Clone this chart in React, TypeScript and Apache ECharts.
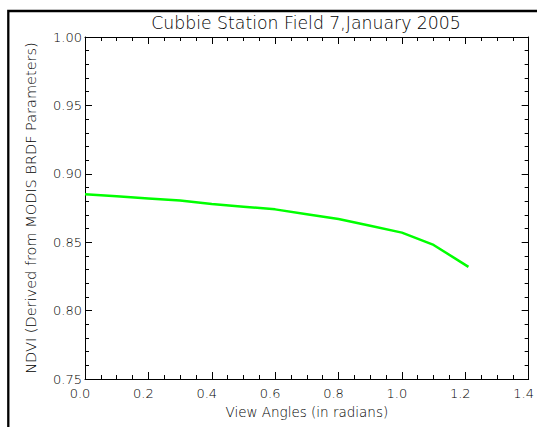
import React, { useEffect, useRef } from "react";
import * as echarts from "echarts";

const viewAngles = [0.0, 0.1, 0.2, 0.3, 0.4, 0.5, 0.6, 0.7, 0.8, 0.9, 1.0, 1.1, 1.21];
const ndviValues = [0.885, 0.8835, 0.882, 0.8805, 0.878, 0.876, 0.874, 0.8705, 0.867, 0.862, 0.857, 0.848, 0.832];
const titleText = "Cubbie Station Field 7,January 2005";
const xName = "View Angles (in radians)";
const yName = "NDVI (Derived from MODIS BRDF Parameters)";

const FONT = "DejaVu Sans";
const TXT = "#000";

export default function App() {
  const ref = useRef<HTMLDivElement>(null);
  useEffect(() => {
    if (!ref.current) return;
    const chart = echarts.init(ref.current, null, { renderer: "svg" });
    const tick = { show: true, inside: true, length: 7, lineStyle: { color: "#000", width: 1 } };
    const minor = { show: true, splitNumber: 4, length: 4, lineStyle: { color: "#000", width: 1 } };
    const minorY = { show: true, splitNumber: 5, length: 4, lineStyle: { color: "#000", width: 1 } };
    const line = { show: true, onZero: false, lineStyle: { color: "#000", width: 1 } };
    chart.setOption({
      animation: false,
      backgroundColor: "#fff",
      title: {
        text: titleText,
        left: 301,
        textAlign: "center",
        top: 9,
        textStyle: { fontFamily: FONT, fontSize: 17.3, fontWeight: 200, color: TXT },
      },
      graphic: [
        {
          type: "rect",
          shape: { x: 8.3, y: 11, width: 1000, height: 1000 },
          style: { fill: "none", stroke: "#000", lineWidth: 2.3 },
          silent: true,
        },
      ],
      grid: { left: 85, top: 37, right: 4, bottom: 48 },
      xAxis: [
        {
          type: "value",
          min: 0,
          max: 1.4,
          interval: 0.2,
          position: "bottom",
          name: xName,
          nameLocation: "middle",
          nameGap: 15,
          nameTextStyle: { fontFamily: FONT, fontSize: 13.5, fontWeight: 200, color: TXT },
          axisLine: line,
          axisTick: tick,
          minorTick: minor,
          splitLine: { show: false },
          axisLabel: {
            fontFamily: FONT,
            fontSize: 13,
            fontWeight: 200,
            color: TXT,
            margin: 8,
            padding: [0, 10, 0, 0],
            formatter: (v: number) => v.toFixed(1),
          },
        },
        {
          type: "value",
          min: 0,
          max: 1.4,
          interval: 0.2,
          position: "top",
          axisLine: line,
          axisTick: tick,
          minorTick: minor,
          splitLine: { show: false },
          axisLabel: { show: false },
        },
      ],
      yAxis: [
        {
          type: "value",
          min: 0.75,
          max: 1.0,
          interval: 0.05,
          position: "left",
          name: yName,
          nameLocation: "middle",
          nameGap: 47,
          nameTextStyle: { fontFamily: FONT, fontSize: 14.5, fontWeight: 200, color: TXT },
          axisLine: line,
          axisTick: tick,
          minorTick: minorY,
          splitLine: { show: false },
          axisLabel: {
            fontFamily: FONT,
            fontSize: 13,
            fontWeight: 200,
            color: TXT,
            margin: 3,
            formatter: (v: number) => v.toFixed(2),
          },
        },
        {
          type: "value",
          min: 0.75,
          max: 1.0,
          interval: 0.05,
          position: "right",
          axisLine: line,
          axisTick: tick,
          minorTick: minorY,
          splitLine: { show: false },
          axisLabel: { show: false },
        },
      ],
      series: [
        {
          type: "line",
          xAxisIndex: 0,
          yAxisIndex: 0,
          data: viewAngles.map((x, i) => [x, ndviValues[i]]),
          showSymbol: false,
          lineStyle: { color: "#00ff00", width: 2.5 },
        },
      ],
    });
    return () => chart.dispose();
  }, []);
  return (
    <div
      ref={ref}
      style={{ position: "absolute", left: 0, top: 0, width: 537, height: 427 }}
    />
  );
}
